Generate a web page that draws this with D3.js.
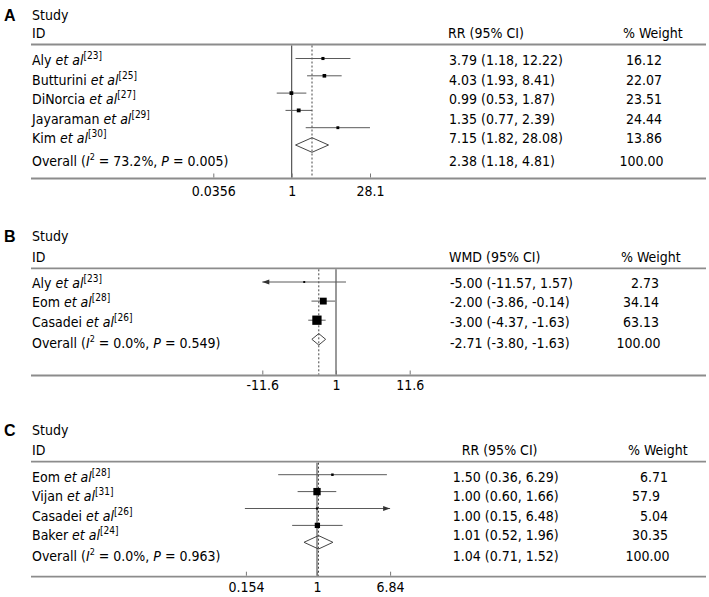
<!DOCTYPE html>
<html>
<head>
<meta charset="utf-8">
<script src="https://cdn.jsdelivr.net/npm/d3@7/dist/d3.min.js"></script>
<style>
  html, body { margin: 0; padding: 0; background: #fff; }
  svg { display: block; }
  text { font-family: "DejaVu Sans Condensed", "DejaVu Sans", sans-serif; font-size: 14px; fill: #000; }
</style>
</head>
<body>
<div id="chart"></div>
<script>
// ---------------- DATA ----------------
// Panel A (RR, log scale)
const studiesA = ["Aly", "Butturini", "DiNorcia", "Jayaraman", "Kim"];
const refsA = ["23", "25", "27", "29", "30"];
const estA = [3.79, 4.03, 0.99, 1.35, 7.15];
const lowA = [1.18, 1.93, 0.53, 0.77, 1.82];
const highA = [12.22, 8.41, 1.87, 2.39, 28.08];
const weightA = [16.12, 22.07, 23.51, 24.44, 13.86];
const arrowsA = [null, null, null, null, null];
const overallA = { est: 2.38, low: 1.18, high: 4.81, i2: "73.2%", p: "0.005", weight: "100.00" };
const ticksA = [0.0356, 1, 28.1];
const tickLabelsA = ["0.0356", "1", "28.1"];

// Panel B (WMD, linear scale)
const studiesB = ["Aly", "Eom", "Casadei"];
const refsB = ["23", "28", "26"];
const estB = [-5.00, -2.00, -3.00];
const lowB = [-11.57, -3.86, -4.37];
const highB = [1.57, -0.14, -1.63];
const weightB = [2.73, 34.14, 63.13];
const arrowsB = ["left", null, null];
const overallB = { est: -2.71, low: -3.80, high: -1.63, i2: "0.0%", p: "0.549", weight: "100.00" };
const ticksB = [-11.6, 0, 11.6];
const tickLabelsB = ["-11.6", "1", "11.6"];

// Panel C (RR, log scale)
const studiesC = ["Eom", "Vijan", "Casadei", "Baker"];
const refsC = ["28", "31", "26", "24"];
const estC = [1.50, 1.00, 1.00, 1.01];
const lowC = [0.36, 0.60, 0.15, 0.52];
const highC = [6.29, 1.66, 6.48, 1.96];
const weightC = [6.71, 57.9, 5.04, 30.35];
const arrowsC = [null, null, "right", null];
const overallC = { est: 1.04, low: 0.71, high: 1.52, i2: "0.0%", p: "0.963", weight: "100.00" };
const ticksC = [0.154, 1, 6.84];
const tickLabelsC = ["0.154", "1", "6.84"];

// ---------------- LAYOUT ----------------
const W = 709, H = 597;
const panels = [
  { letter: "A", studies: studiesA, refs: refsA, est: estA, low: lowA, high: highA, weight: weightA,
    arrows: arrowsA, overall: overallA, effLabel: "RR (95% CI)", type: "log", ticks: ticksA,
    tickLabels: tickLabelsA, nullValue: 1,
    L: { letterBase: 20.5, studyBase: 20, idBase: 38, headerLine: 44.5, rowBase0: 65, rowStep: 19.5,
         overallBase: 166, markY0: 58.5, markStep: 17.3, axisY: 178.5, tickPad: 8.5,
         range: [213.3, 370], boxScale: 0.77, diamondH: 7.3,
         effX: 449, effHeadX: 448, wEnd: 662, wHeadX: 623 } },
  { letter: "B", studies: studiesB, refs: refsB, est: estB, low: lowB, high: highB, weight: weightB,
    arrows: arrowsB, overall: overallB, effLabel: "WMD (95% CI)", type: "linear", ticks: ticksB,
    tickLabels: tickLabelsB, nullValue: 0,
    L: { letterBase: 242, studyBase: 241, idBase: 261.5, headerLine: 268.3, rowBase0: 287.5, rowStep: 19.8,
         overallBase: 347.5, markY0: 282, markStep: 19.1, axisY: 375.5, tickPad: 6,
         range: [262.3, 409.7], boxScale: 1.17, diamondH: 5.7,
         effX: 450, effHeadX: 449, wEnd: 659, wHeadX: 621 } },
  { letter: "C", studies: studiesC, refs: refsC, est: estC, low: lowC, high: highC, weight: weightC,
    arrows: arrowsC, overall: overallC, effLabel: "RR (95% CI)", type: "log", ticks: ticksC,
    tickLabels: tickLabelsC, nullValue: 1,
    L: { letterBase: 435.5, studyBase: 435, idBase: 455, headerLine: 461.7, rowBase0: 482, rowStep: 19.4,
         overallBase: 560.5, markY0: 474.7, markStep: 16.9, axisY: 576.7, tickPad: 6.6,
         range: [245.9, 390.1], boxScale: 0.96, diamondH: 6.7,
         effX: 452.7, effHeadX: 461.7, wEnd: 668, wHeadX: 628 } }
];

const svg = d3.select("#chart").append("svg").attr("width", W).attr("height", H);

const LINE_X0 = 31, LINE_X1 = 706;
const fmtEff = (e, l, h) => `${e.toFixed(2)} (${l.toFixed(2)}, ${h.toFixed(2)})`;
const fmtW = w => { const s = String(w); const dec = s.includes(".") ? s.split(".")[1].length : 0; return dec < 2 ? s + "\u2007".repeat(2 - dec) : s; };

function studyLabel(sel, name, ref) {
  sel.append("tspan").text(name + " ");
  sel.append("tspan").attr("font-style", "italic").text("et al");
  sel.append("tspan").attr("font-size", "10px").attr("dy", -6).attr("dx", 0).text("[" + ref + "]");
}

function overallLabel(sel, o) {
  sel.append("tspan").text("Overall (");
  sel.append("tspan").attr("font-style", "italic").text("I");
  sel.append("tspan").attr("font-size", "9px").attr("dy", -6).text("2");
  sel.append("tspan").attr("dy", 6).text(` = ${o.i2}, `);
  sel.append("tspan").attr("font-style", "italic").text("P");
  sel.append("tspan").text(` = ${o.p})`);
}

panels.forEach(p => {
  const L = p.L;
  const g = svg.append("g");
  const x = (p.type === "log" ? d3.scaleLog() : d3.scaleLinear())
    .domain([p.ticks[0], p.ticks[p.ticks.length - 1]]).range(L.range);
  const yMark = i => L.markY0 + i * L.markStep;
  const yText = i => L.rowBase0 + i * L.rowStep;
  const n = p.studies.length;

  // panel letter + headers
  g.append("text").attr("x", 4).attr("y", L.letterBase)
    .style("font-family", "'Liberation Sans', Arial, sans-serif").style("font-weight", "bold").style("font-size", "16px")
    .text(p.letter);
  g.append("text").attr("x", 32).attr("y", L.studyBase).text("Study");
  g.append("text").attr("x", 32).attr("y", L.idBase).text("ID");
  g.append("text").attr("x", L.effHeadX).attr("y", L.idBase).text(p.effLabel);
  g.append("text").attr("x", L.wHeadX).attr("y", L.idBase).text("% Weight");

  // header and axis rule lines
  g.append("line").attr("x1", LINE_X0).attr("x2", LINE_X1).attr("y1", L.headerLine).attr("y2", L.headerLine)
    .attr("stroke", "#8c8c8c").attr("stroke-width", 1.8);
  g.append("line").attr("x1", LINE_X0).attr("x2", LINE_X1).attr("y1", L.axisY).attr("y2", L.axisY)
    .attr("stroke", "#8c8c8c").attr("stroke-width", 1.8);

  // null line and overall dashed line
  g.append("line").attr("x1", x(p.nullValue)).attr("x2", x(p.nullValue))
    .attr("y1", L.headerLine + 1).attr("y2", L.axisY - 1).attr("stroke", "#555").attr("stroke-width", 1.2);
  g.append("line").attr("x1", x(p.overall.est)).attr("x2", x(p.overall.est))
    .attr("y1", L.headerLine + 1).attr("y2", L.axisY - 1).attr("stroke", "#444").attr("stroke-width", 1)
    .attr("stroke-dasharray", "2,2");

  // study rows
  for (let i = 0; i < n; i++) {
    const ym = yMark(i);
    const arrow = p.arrows[i];
    const dom = x.domain();
    const lo = arrow === "left" ? dom[0] : p.low[i];
    const hi = arrow === "right" ? dom[1] : p.high[i];
    g.append("line").attr("x1", x(lo)).attr("x2", x(hi)).attr("y1", ym).attr("y2", ym)
      .attr("stroke", "#5a5a5a").attr("stroke-width", 1);
    if (arrow) {
      const tip = arrow === "left" ? x(dom[0]) : x(dom[1]);
      const dir = arrow === "left" ? 1 : -1;
      g.append("path")
        .attr("d", `M${tip},${ym} L${tip + dir * 7},${ym - 2.5} L${tip + dir * 7},${ym + 2.5} Z`)
        .attr("fill", "#333");
    }
    const s = L.boxScale * Math.sqrt(p.weight[i]);
    g.append("rect").attr("x", x(p.est[i]) - s / 2).attr("y", ym - s / 2).attr("width", s).attr("height", s)
      .attr("fill", "#000");

    const t = g.append("text").attr("x", 32).attr("y", yText(i));
    studyLabel(t, p.studies[i], p.refs[i]);
    g.append("text").attr("x", L.effX).attr("y", yText(i)).text(fmtEff(p.est[i], p.low[i], p.high[i]));
    g.append("text").attr("x", L.wEnd).attr("y", yText(i)).attr("text-anchor", "end")
      .style("white-space", "pre").text(fmtW(p.weight[i]));
  }

  // overall diamond
  const yd = yMark(n);
  const o = p.overall;
  g.append("path")
    .attr("d", `M${x(o.low)},${yd} L${x(o.est)},${yd - L.diamondH} L${x(o.high)},${yd} L${x(o.est)},${yd + L.diamondH} Z`)
    .attr("fill", "none").attr("stroke", "#444").attr("stroke-width", 1);
  const ot = g.append("text").attr("x", 32).attr("y", L.overallBase);
  overallLabel(ot, o);
  g.append("text").attr("x", L.effX).attr("y", L.overallBase).text(fmtEff(o.est, o.low, o.high));
  g.append("text").attr("x", L.wEnd + 1.5).attr("y", L.overallBase).attr("text-anchor", "end").text(o.weight);

  // axis
  const axis = d3.axisBottom(x).tickValues(p.ticks).tickFormat((d, i) => p.tickLabels[i])
    .tickSize(-4).tickPadding(L.tickPad);
  const ag = g.append("g").attr("transform", `translate(0,${L.axisY - 1})`).call(axis);
  ag.select(".domain").remove();
  ag.selectAll(".tick line").attr("stroke", "#777");
  ag.selectAll(".tick text")
    .attr("font-family", null).attr("font-size", null)
    .style("font-family", "'DejaVu Sans Condensed', 'DejaVu Sans', sans-serif").style("font-size", "14px").attr("fill", "#000");
});
</script>
</body>
</html>
